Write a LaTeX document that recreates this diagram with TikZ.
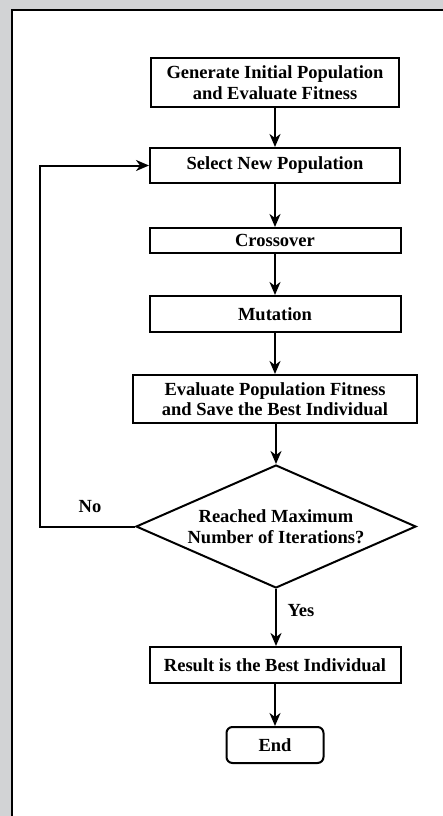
\documentclass[tikz,border=0pt]{standalone}
\usepackage{fontspec}
\setmainfont{Liberation Serif}
\usepackage{tikz}
\usetikzlibrary{arrows.meta}
\usetikzlibrary{shapes.geometric}
\definecolor{framegray}{RGB}{210,211,213}

\begin{document}
\begin{tikzpicture}[x=1pt,y=-1pt,->,>={Stealth[length=13pt,width=11pt,inset=4pt]},line width=2pt,
    box node/.style={rectangle,draw,line width=2pt,align=center,inner sep=0pt,font=\fontsize{18.5}{20.5}\selectfont\bfseries},
    test node/.style={diamond,draw,line width=2pt,align=center,inner sep=0pt,aspect=2.3,font=\fontsize{18.5}{20.5}\selectfont\bfseries},
    word node/.style={font=\fontsize{18.5}{20.5}\selectfont\bfseries}]
   \useasboundingbox (0,0) rectangle (443,816);
   % frame
   \fill[framegray] (0,0) rectangle (443,816);
   \fill[white] (12,10) rectangle (443,816);
   \draw[-,line width=2.5pt] (12,816) -- (12,10) -- (443,10);
   \begin{scope}
      \node[box node,minimum width=248pt,minimum height=49pt] (init) at (275,82.5) {Generate Initial Population\\and Evaluate Fitness};
      \node[box node,minimum width=250pt,minimum height=35pt] (select) at (275,165.5) {Select New Population};
      \node[box node,minimum width=251pt,minimum height=25pt] (cross) at (275,240.5) {Crossover};
      \node[box node,minimum width=251pt,minimum height=36pt] (mut) at (275,314) {Mutation};
      \node[box node,minimum width=284pt,minimum height=48pt] (eval) at (275,399) {Evaluate Population Fitness\\and Save the Best Individual};
      \node[test node,minimum width=280pt,minimum height=123pt] (stop) at (276,526.5) {Reached Maximum\\Number of Iterations?};
      \node[box node,minimum width=251pt,minimum height=36pt] (best) at (275,665) {Result is the Best Individual};
      \node[box node,rounded corners=6pt,minimum width=97pt,minimum height=36pt] (end) at (275,745) {End};
      \coordinate (back) at (40,526.5);
      \node[word node] (no) at (90,507) {No};
      \node[word node] (yes) at (301,611) {Yes};
       \path (init) edge (select);
       \path (select) edge (cross);
       \path (cross) edge (mut);
       \path (mut) edge (eval);
       \path (eval.south -| stop.north) edge (stop.north);
       \path (stop) edge (best.north -| stop.south);
       \path (best) edge (end);
       \draw (stop.west) -- (back) |- (select.west);
    \end{scope}
  \end{tikzpicture}
\end{document}
